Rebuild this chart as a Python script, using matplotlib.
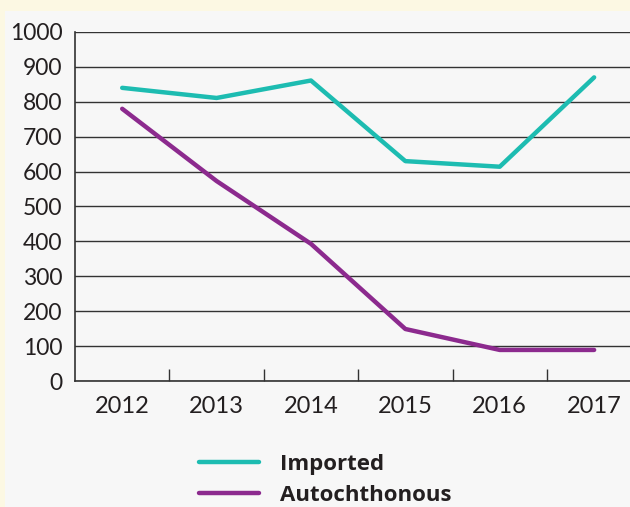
import matplotlib
matplotlib.use("Agg")
import matplotlib.pyplot as plt
from matplotlib.patches import Rectangle

# values
years = ["2012", "2013", "2014", "2015", "2016", "2017"]
imported = [840, 811, 861, 630, 614, 870]
autochthonous = [780, 573, 393, 149, 89, 89]

teal = "#1DBCB1"
purple = "#8C2A8E"
grid_col = "#333333"

plt.rcParams.update({
    "font.family": ["Lato", "DejaVu Sans"],
    "text.color": "#231F20",
})

fig = plt.figure(figsize=(6.3, 5.07), dpi=100, facecolor="#FCF8E3")
# light grey panel behind the chart
fig.patches.append(Rectangle((5 / 630, 0), 1, 1 - 11 / 507, transform=fig.transFigure,
                             facecolor="#F7F7F7", edgecolor="none", zorder=-10))

ax = fig.add_axes([75 / 630, 1 - 381 / 507, 1 - 75 / 630, (381 - 32) / 507])
ax.set_facecolor("#F7F7F7")

x = list(range(len(years)))
ax.plot(x, imported, color=teal, lw=3.2, solid_capstyle="round", zorder=3, label="Imported")
ax.plot(x, autochthonous, color=purple, lw=3.2, solid_capstyle="round", zorder=3,
        label="Autochthonous")

ax.set_ylim(0, 1000)
ax.set_xlim(-0.5, 5.38)
ax.set_yticks(range(0, 1001, 100))
ax.yaxis.grid(True, color=grid_col, lw=1)
ax.set_axisbelow(True)
ax.tick_params(axis="y", length=0, pad=9, labelsize=16.5, labelcolor="#231F20")

# year labels centred, tick marks between categories
ax.set_xticks([i + 0.5 for i in range(len(years) - 1)])
ax.set_xticklabels([])
ax.tick_params(axis="x", which="major", direction="in", length=9, width=1, color=grid_col)
ax.set_xticks(x, minor=True)
ax.set_xticklabels(years, minor=True)
ax.tick_params(axis="x", which="minor", length=0, pad=11, labelsize=17, labelcolor="#231F20")

for s in ["top", "right"]:
    ax.spines[s].set_visible(False)
for s in ["left", "bottom"]:
    ax.spines[s].set_color(grid_col)
    ax.spines[s].set_linewidth(1.2)

leg = fig.legend(loc="upper left", bbox_to_anchor=(190 / 630, 1 - 445 / 507), frameon=False,
                 prop={"family": ["Open Sans", "DejaVu Sans"], "weight": "bold", "size": 16},
                 handlelength=2.7, handletextpad=0.95, labelspacing=0.45, borderaxespad=0)

fig.savefig("out.png", dpi=100, facecolor=fig.get_facecolor())
